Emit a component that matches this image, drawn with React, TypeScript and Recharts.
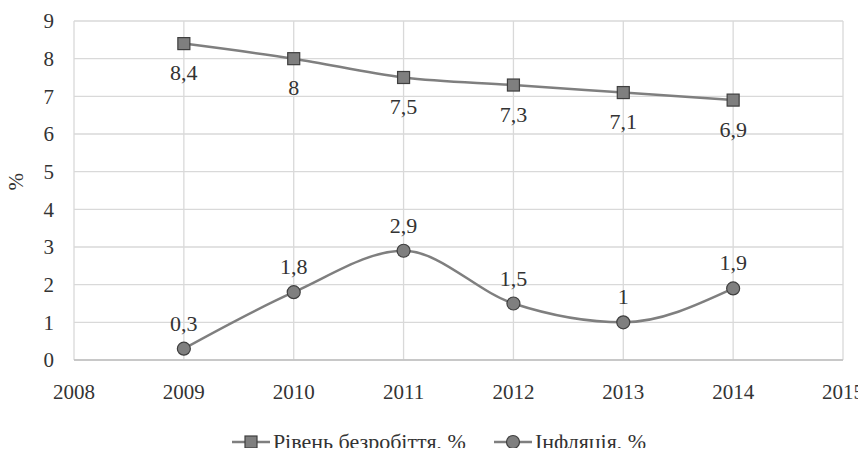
import { LineChart, Line, XAxis, YAxis, CartesianGrid, Legend, LabelList } from 'recharts'

const years = [2009, 2010, 2011, 2012, 2013, 2014]
const unemployment = [8.4, 8, 7.5, 7.3, 7.1, 6.9]
const inflation = [0.3, 1.8, 2.9, 1.5, 1, 1.9]
const xTicks = [2008, 2009, 2010, 2011, 2012, 2013, 2014, 2015]
const yTicks = [0, 1, 2, 3, 4, 5, 6, 7, 8, 9]

const data = years.map((year, i) => ({ year, unemployment: unemployment[i], inflation: inflation[i] }))

const font = 'Liberation Serif, Tinos, Times New Roman, Times, DejaVu Serif, serif'
const lineColor = '#7f7f7f'
const markerStroke = '#3f3f3f'
const textColor = '#333'
const fmt = (v: any) => String(v).replace('.', ',')

const SquareDot = (props: any) => {
  const { cx, cy } = props
  if (cx == null || cy == null) return null
  return <rect x={cx - 6} y={cy - 6} width={12} height={12} fill={lineColor} stroke={markerStroke} strokeWidth={1.2} />
}

const CircleDot = (props: any) => {
  const { cx, cy } = props
  if (cx == null || cy == null) return null
  return <circle cx={cx} cy={cy} r={6.5} fill={lineColor} stroke={markerStroke} strokeWidth={1.2} />
}

const LegendContent = () => (
  <div style={{ height: 26, display: 'flex', justifyContent: 'center', alignItems: 'center', fontFamily: font, fontSize: 22, color: textColor }}>
    <svg width={38} height={16} style={{ marginRight: 3 }}>
      <line x1={0} y1={8} x2={38} y2={8} stroke={lineColor} strokeWidth={2.5} />
      <rect x={13} y={2} width={12} height={12} fill={lineColor} stroke={markerStroke} strokeWidth={1.2} />
    </svg>
    <span style={{ marginRight: 28 }}>Рівень безробіття, %</span>
    <svg width={38} height={16} style={{ marginRight: 3 }}>
      <line x1={0} y1={8} x2={38} y2={8} stroke={lineColor} strokeWidth={2.5} />
      <circle cx={19} cy={8} r={6.5} fill={lineColor} stroke={markerStroke} strokeWidth={1.2} />
    </svg>
    <span>Інфляція, %</span>
  </div>
)

export default function App() {
  return (
    <div style={{ margin: -8, background: '#fff', width: 866, height: 456 }}>
      <LineChart width={866} height={456} data={data} margin={{ top: 21, right: 23, left: 0, bottom: 1 }}>
        <CartesianGrid stroke='#d9d9d9' strokeWidth={1.3} />
        <XAxis
          dataKey='year'
          type='number'
          domain={[2008, 2015]}
          ticks={xTicks}
          tickLine={false}
          axisLine={{ stroke: '#bfbfbf', strokeWidth: 1.3 }}
          tickSize={0}
          tickMargin={24}
          height={69}
          tick={{ fontFamily: font, fontSize: 21, fill: textColor }}
        />
        <YAxis
          type='number'
          domain={[0, 9]}
          ticks={yTicks}
          width={74}
          tickLine={false}
          axisLine={false}
          tickSize={0}
          tickMargin={20}
          tick={{ fontFamily: font, fontSize: 21, fill: textColor }}
          label={{ value: '%', angle: -90, position: 'insideLeft', offset: 16, style: { fontFamily: font, fontSize: 21, fill: textColor } }}
        />
        <Legend verticalAlign='bottom' wrapperStyle={{ left: 6, width: 866 }} content={<LegendContent />} />
        <Line
          dataKey='unemployment'
          type='monotone'
          stroke={lineColor}
          strokeWidth={2.5}
          dot={<SquareDot />}
          activeDot={false}
          isAnimationActive={false}
        >
          <LabelList dataKey='unemployment' position='bottom' offset={21} formatter={fmt} style={{ fontFamily: font, fontSize: 22, fill: textColor }} />
        </Line>
        <Line
          dataKey='inflation'
          type='monotone'
          stroke={lineColor}
          strokeWidth={2.5}
          dot={<CircleDot />}
          activeDot={false}
          isAnimationActive={false}
        >
          <LabelList dataKey='inflation' position='top' offset={18} formatter={fmt} style={{ fontFamily: font, fontSize: 22, fill: textColor }} />
        </Line>
      </LineChart>
    </div>
  )
}
